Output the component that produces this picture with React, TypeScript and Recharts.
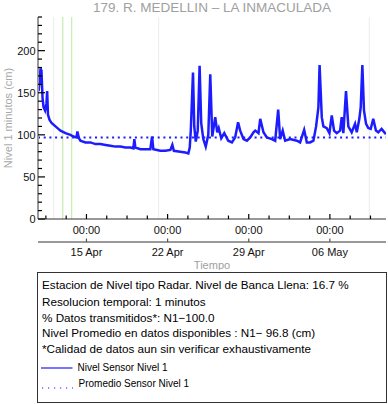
import React from "react";
import { LineChart, Line, XAxis, YAxis, ReferenceLine } from "recharts";

// time in days from 15 Apr 00:00
const days = [
  -4.13, -4.05, -3.96, -3.88, -3.79, -3.7, -3.57, -3.45, -3.39, -3.32, -3.19, -3.01, -2.67, -2.24, -1.81,
  -1.38, -1.12, -0.86, -0.78, -0.65, -0.52, -0.09, 0.34, 0.78, 1.21, 1.64, 2.07, 2.5, 2.93, 3.36, 3.79,
  4.05, 4.13, 4.22, 4.65, 5.08, 5.51, 5.66, 5.77, 6.37, 6.8, 7.24, 7.41, 7.54, 8.1, 8.53, 8.79, 8.91,
  9.0, 9.19, 9.3, 9.43, 9.6, 9.76, 9.9, 10.08, 10.29, 10.51, 10.68, 10.85, 11.11, 11.28, 11.41, 11.63,
  11.89, 12.23, 12.55, 12.83, 13.08, 13.26, 13.55, 13.84, 14.13, 14.41, 14.56, 14.84, 14.99, 15.27,
  15.56, 15.99, 16.28, 16.54, 16.71, 16.93, 17.14, 17.57, 18.15, 18.43, 18.78, 19.01, 19.29, 19.58,
  19.81, 20.01, 20.11, 20.3, 20.44, 20.73, 20.96, 21.16, 21.36, 21.59, 21.88, 22.02, 22.16, 22.39,
  22.59, 22.88, 23.17, 23.32, 23.54, 23.66, 23.8, 23.94, 24.12, 24.31, 24.52, 24.74, 24.97, 25.17,
  25.46, 25.75, 25.84,
];
const level = [
  152, 163, 179, 176, 144, 133, 129, 137, 152, 124, 118, 114, 110, 105, 102,
  100, 98, 97, 104, 96, 93, 91, 91, 89, 89, 88, 87, 86, 86, 85, 85,
  84, 95, 85, 83, 83, 83, 98, 83, 81, 81, 82, 88, 81, 80, 79, 78, 85,
  105, 174, 110, 92, 105, 182, 114, 95, 86, 100, 172, 98, 121, 103, 108, 96,
  102, 93, 91, 97, 115, 105, 95, 93, 97, 103, 105, 102, 119, 103,
  97, 95, 93, 130, 95, 105, 93, 95, 93, 91, 106, 91, 91, 93,
  110, 133, 183, 121, 110, 108, 102, 123, 105, 102, 105, 121, 102, 152,
  110, 103, 113, 103, 119, 133, 183, 129, 113, 108, 107, 119, 105, 103,
  107, 102, 101,
];
const avgLevel = 96.8;

const dayTicks = [-3.5, -1.75, 0, 1.75, 3.5, 5.25, 7, 8.75, 10.5, 12.25, 14, 15.75, 17.5, 19.25, 21, 22.75, 24.5];
const majorDays = [0, 7, 14, 21];
const timeLabels = ["00:00", "00:00", "00:00", "00:00"];
const dateLabels = ["15 Apr", "22 Apr", "29 Apr", "06 May"];
const levelTicks = [0, 10, 20, 30, 40, 50, 60, 70, 80, 90, 100, 110, 120, 130, 140, 150, 160, 170, 180, 190, 200, 210, 220, 230, 240];
const greenDays = [-2.04, -1.27];
const grayDays = [-2.82, 6.23, 24.4];

const infoLines = [
  "Estacion de Nivel tipo Radar. Nivel de Banca Llena: 16.7 %",
  "Resolucion temporal: 1 minutos",
  "% Datos transmitidos*: N1\u2212100.0",
  "Nivel Promedio en datos disponibles : N1\u2212 96.8 (cm)",
  "*Calidad de datos aun sin verificar exhaustivamente",
];

const data = days.map((d, i) => ({ day: d, level: level[i] }));

const BLUE = "#1c1cff";
const TICK = "#000";
const FONT = "Arial, 'Liberation Sans', sans-serif";
const X_DOMAIN = [-4.18, 25.84];

const TimeTick = (props: any) => {
  const { x, y, payload } = props;
  const idx = majorDays.indexOf(payload.value);
  return (
    <g>
      <line x1={x} y1={y} x2={x} y2={y - (idx >= 0 ? 5 : 3.5)} stroke={TICK} strokeWidth={1.2} />
      {idx >= 0 && (
        <text x={x} y={y + 14.5} textAnchor="middle" fontSize={11} fill="#111" fontFamily={FONT}>
          {timeLabels[idx]}
        </text>
      )}
    </g>
  );
};

const DateTick = (props: any) => {
  const { x, y, payload } = props;
  const idx = majorDays.indexOf(payload.value);
  return (
    <g>
      <line x1={x} y1={y} x2={x} y2={y - 3.5} stroke="#555" strokeWidth={1.2} />
      <text x={x} y={y + 14} textAnchor="middle" fontSize={11} fill="#111" fontFamily={FONT}>
        {dateLabels[idx]}
      </text>
    </g>
  );
};

const TopTick = (props: any) => {
  const { x, y, payload } = props;
  const major = majorDays.includes(payload.value);
  return (
    <g>
      <line x1={x} y1={y} x2={x} y2={y + (major ? 5 : 3.5)} stroke={TICK} strokeWidth={1.2} />
    </g>
  );
};

const LeftTick = (props: any) => {
  const { x, y, payload } = props;
  const major = payload.value % 50 === 0;
  return (
    <g>
      <line x1={x} y1={y} x2={x + (major ? 7 : 4)} y2={y} stroke={TICK} strokeWidth={1.2} />
      {major && (
        <text x={x - 2.5} y={y + 4} textAnchor="end" fontSize={11} fill="#111" fontFamily={FONT}>
          {payload.value}
        </text>
      )}
    </g>
  );
};

const RightTick = (props: any) => {
  const { x, y, payload } = props;
  const major = payload.value % 50 === 0;
  return (
    <g>
      <line x1={x} y1={y} x2={x - (major ? 7 : 4)} y2={y} stroke={TICK} strokeWidth={1.2} />
    </g>
  );
};

export default function App() {
  return (
    <div
      style={{
        position: "absolute",
        left: 0,
        top: 0,
        width: 388,
        height: 404,
        background: "#fff",
        fontFamily: FONT,
      }}
    >
      <div
        style={{
          position: "absolute",
          left: 38,
          top: 0,
          width: 348,
          textAlign: "center",
          fontSize: 13.5,
          lineHeight: "15px",
          color: "#a0a0a0",
          whiteSpace: "nowrap",
        }}
      >
        179. R. MEDELLIN – LA INMACULADA
      </div>
      <LineChart width={388} height={270} data={data} margin={{ top: 17, right: 2, bottom: 0, left: 0 }}>
        <XAxis
          xAxisId="a_time"
          dataKey="day"
          type="number"
          domain={X_DOMAIN}
          allowDataOverflow
          ticks={dayTicks}
          interval={0}
          height={23}
          tickSize={0}
          tickMargin={0}
          tickLine={false}
          tick={<TimeTick />}
          axisLine={{ stroke: "#333" }}
        />
        <XAxis
          xAxisId="b_date"
          dataKey="day"
          type="number"
          domain={X_DOMAIN}
          allowDataOverflow
          ticks={majorDays}
          interval={0}
          height={28}
          tickSize={0}
          tickMargin={0}
          tickLine={false}
          tick={<DateTick />}
          axisLine={{ stroke: "#999", strokeWidth: 2 }}
          label={{ value: "Tiempo", position: "insideBottom", offset: 1, fontSize: 11, fill: "#a0a0a0" }}
        />
        <XAxis
          xAxisId="c_top"
          orientation="top"
          dataKey="day"
          type="number"
          domain={X_DOMAIN}
          allowDataOverflow
          ticks={dayTicks}
          interval={0}
          height={0}
          tickSize={0}
          tickMargin={0}
          tickLine={false}
          tick={<TopTick />}
          axisLine={{ stroke: "#444" }}
        />
        <YAxis
          yAxisId="left"
          type="number"
          domain={[0, 240]}
          allowDataOverflow
          ticks={levelTicks}
          interval={0}
          width={38}
          tickSize={0}
          tickMargin={0}
          tickLine={false}
          tick={<LeftTick />}
          axisLine={{ stroke: "#999", strokeWidth: 2 }}
          label={{
            value: "Nivel 1 minutos (cm)",
            angle: -90,
            position: "insideLeft",
            offset: 8,
            fontSize: 11,
            fill: "#a8a8a8",
            style: { textAnchor: "middle" },
          }}
        />
        <YAxis
          yAxisId="right"
          orientation="right"
          type="number"
          domain={[0, 240]}
          allowDataOverflow
          ticks={levelTicks}
          interval={0}
          width={0}
          tickSize={0}
          tickMargin={0}
          tickLine={false}
          tick={<RightTick />}
          axisLine={{ stroke: "#444" }}
        />
        {grayDays.map((d) => (
          <ReferenceLine key={"g" + d} xAxisId="a_time" yAxisId="left" x={d} stroke="#ececec" />
        ))}
        {greenDays.map((d) => (
          <ReferenceLine key={"v" + d} xAxisId="a_time" yAxisId="left" x={d} stroke="#bde89a" />
        ))}
        <Line
          xAxisId="a_time"
          yAxisId="left"
          type="linear"
          dataKey="level"
          stroke={BLUE}
          strokeWidth={2.5}
          dot={false}
          isAnimationActive={false}
        />
        <ReferenceLine
          xAxisId="a_time"
          yAxisId="left"
          y={avgLevel}
          stroke={BLUE}
          strokeWidth={2}
          strokeDasharray="2 3.7"
        />
      </LineChart>
      <div
        style={{
          position: "absolute",
          left: 37,
          top: 272,
          width: 350,
          height: 131,
          boxSizing: "border-box",
          border: "1px solid #333",
          fontSize: 11.7,
          color: "#000",
        }}
      >
        {infoLines.map((t, i) => (
          <div
            key={i}
            style={{
              position: "absolute",
              left: 4,
              top: [5, 21.5, 37.5, 53, 68.5][i],
              lineHeight: "14px",
              whiteSpace: "nowrap",
            }}
          >
            {t}
          </div>
        ))}
        <svg style={{ position: "absolute", left: 3, top: 94, overflow: "visible" }} width={32} height={2}>
          <line x1={0} y1={1} x2={31.5} y2={1} stroke={BLUE} strokeWidth={1.2} />
        </svg>
        <div style={{ position: "absolute", left: 39.5, top: 88.7, fontSize: 10, lineHeight: "12px", whiteSpace: "nowrap" }}>
          Nivel Sensor Nivel 1
        </div>
        <svg style={{ position: "absolute", left: 3, top: 114, overflow: "visible" }} width={32} height={2}>
          <line x1={1} y1={1} x2={32} y2={1} stroke={BLUE} strokeWidth={1.2} strokeDasharray="1.2 4.8" />
        </svg>
        <div style={{ position: "absolute", left: 40.5, top: 105.3, fontSize: 10, lineHeight: "12px", whiteSpace: "nowrap" }}>
          Promedio Sensor Nivel 1
        </div>
      </div>
    </div>
  );
}
